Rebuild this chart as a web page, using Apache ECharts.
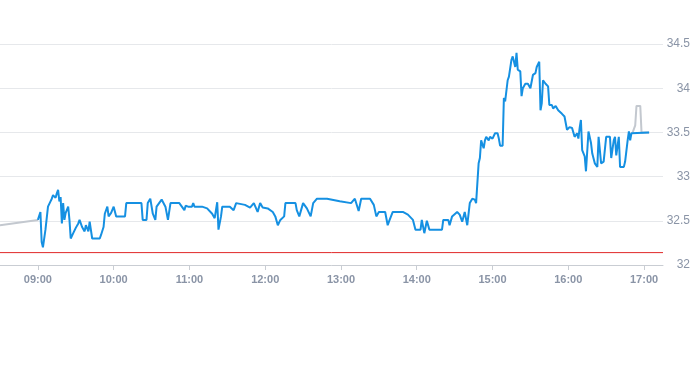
<!DOCTYPE html>
<html>
<head>
<meta charset="utf-8">
<script src="https://cdn.jsdelivr.net/npm/echarts@6/dist/echarts.min.js"></script>
<style>html,body{margin:0;padding:0;background:#fff;}#c{width:693px;height:365px;}</style>
</head>
<body>
<div id="c"></div>
<script>
const blueTimes = ["09:00","09:02","09:03","09:04","09:06","09:07","09:08","09:10","09:11","09:12","09:13","09:14","09:15","09:16","09:17","09:18","09:19","09:20","09:21","09:22","09:24","09:25","09:26","09:28","09:30","09:32","09:33","09:35","09:36","09:37","09:38","09:39","09:40","09:41","09:42","09:43","09:49","09:50","09:52","09:53","09:55","09:56","09:58","10:00","10:02","10:09","10:10","10:22","10:23","10:26","10:27","10:29","10:31","10:33","10:34","10:36","10:38","10:39","10:41","10:43","10:45","10:52","10:54","10:56","10:57","10:59","11:02","11:03","11:04","11:10","11:14","11:18","11:20","11:22","11:23","11:25","11:26","11:32","11:35","11:37","11:44","11:48","11:51","11:54","11:56","11:58","12:02","12:06","12:08","12:10","12:12","12:15","12:16","12:24","12:25","12:27","12:30","12:33","12:36","12:38","12:41","12:49","12:59","13:08","13:11","13:12","13:14","13:16","13:23","13:26","13:28","13:30","13:35","13:37","13:38","13:41","13:49","13:53","13:57","13:59","14:03","14:04","14:06","14:08","14:09","14:10","14:20","14:21","14:25","14:26","14:28","14:29","14:32","14:34","14:36","14:38","14:40","14:41","14:42","14:44","14:46","14:47","14:49","14:50","14:51","14:53","14:54","14:55","14:57","14:58","15:00","15:02","15:04","15:05","15:06","15:08","15:09","15:10","15:12","15:13","15:14","15:15","15:16","15:18","15:19","15:20","15:22","15:23","15:24","15:26","15:28","15:30","15:32","15:34","15:35","15:37","15:38","15:39","15:40","15:42","15:44","15:45","15:47","15:48","15:50","15:52","15:53","15:55","15:57","15:58","15:59","16:00","16:01","16:03","16:05","16:07","16:08","16:09","16:10","16:11","16:13","16:14","16:15","16:16","16:18","16:19","16:21","16:23","16:24","16:26","16:28","16:30","16:33","16:34","16:36","16:37","16:38","16:40","16:41","16:44","16:45","16:47","16:48","16:49","16:50","16:51","17:04"];
const blueValues = [32.51,32.60,32.26,32.20,32.40,32.40,32.66,32.72,32.75,32.79,32.80,32.76,32.81,32.85,32.72,32.77,32.47,32.70,32.51,32.59,32.66,32.51,32.30,32.36,32.42,32.47,32.51,32.43,32.42,32.38,32.45,32.47,32.38,32.49,32.51,32.30,32.30,32.34,32.43,32.58,32.66,32.55,32.59,32.66,32.55,32.55,32.70,32.70,32.51,32.51,32.70,32.75,32.58,32.51,32.66,32.70,32.74,32.75,32.66,32.51,32.70,32.70,32.66,32.62,32.67,32.66,32.66,32.70,32.66,32.66,32.64,32.58,32.53,32.71,32.40,32.55,32.66,32.66,32.62,32.70,32.68,32.65,32.70,32.60,32.70,32.65,32.64,32.60,32.55,32.45,32.51,32.55,32.70,32.70,32.62,32.55,32.70,32.64,32.55,32.70,32.75,32.75,32.72,32.70,32.75,32.75,32.61,32.75,32.75,32.68,32.55,32.60,32.60,32.45,32.49,32.60,32.60,32.57,32.51,32.40,32.40,32.51,32.36,32.50,32.50,32.40,32.40,32.51,32.51,32.45,32.55,32.53,32.60,32.57,32.49,32.60,32.45,32.45,32.70,32.75,32.74,32.70,33.15,33.21,33.41,33.32,33.41,33.45,33.41,33.45,33.43,33.49,33.49,33.43,33.35,33.35,33.89,33.85,34.09,34.13,34.15,34.32,34.36,34.24,34.40,34.21,34.19,33.91,34.00,34.05,34.05,34.00,34.15,34.17,34.24,34.30,33.75,33.83,34.09,34.05,34.02,33.81,33.81,33.77,33.80,33.75,33.77,33.71,33.68,33.70,33.53,33.51,33.56,33.55,33.45,33.49,33.43,33.55,33.64,33.30,33.23,33.06,33.06,33.51,33.38,33.26,33.15,33.11,33.45,33.15,33.17,33.45,33.45,33.21,33.41,33.45,33.24,33.45,33.11,33.11,33.17,33.41,33.51,33.41,33.49,33.50,33.50];
const greyTimes = ["08:30","09:00",null,"16:51","16:53","16:54","16:57","16:58","17:04"];
const greyValues = [32.45,32.51,null,33.50,33.58,33.80,33.80,33.50,33.50];
const refLineValue = 32.14;
const xStart = "08:30", xEnd = "17:15";
const yMin = 32, yMax = 34.5, yStep = 0.5;

function ts(s){ const p = s.split(':'); return new Date(2024,0,2,+p[0],+p[1]).getTime(); }
function pairs(t, v){ return t.map((x,i)=> x===null ? '-' : [ts(x), v[i]]); }

const chart = echarts.init(document.getElementById('c'), null, {renderer:'canvas'});
const lbl = {color:'#8a94a6', fontFamily:'Liberation Sans, Arial, sans-serif'};
chart.setOption({
  animation:false,
  grid:{left:0, right:30, top:44, bottom:100, containLabel:false},
  xAxis:{
    type:'time', min:ts(xStart), max:ts(xEnd),
    minInterval:3600000, maxInterval:3600000,
    axisLine:{show:true, onZero:false, lineStyle:{color:'#c9cdd3', width:1}},
    axisTick:{show:true, length:5, lineStyle:{color:'#c9cdd3'}},
    splitLine:{show:false},
    axisLabel:Object.assign({margin:9, fontSize:11, fontWeight:'bold', formatter:function(v){const d=new Date(v);return String(d.getHours()).padStart(2,'0')+':'+String(d.getMinutes()).padStart(2,'0');}}, lbl)
  },
  yAxis:{
    type:'value', position:'right', min:yMin, max:yMax, interval:yStep,
    axisLine:{show:false}, axisTick:{show:false},
    splitLine:{lineStyle:{color:'#e6e8eb'}},
    axisLabel:Object.assign({align:'right', margin:27, fontSize:12}, lbl)
  },
  series:[
    {type:'line', data:[[ts(xStart), refLineValue],[ts(xEnd), refLineValue]], showSymbol:false, silent:true,
     itemStyle:{color:'#e02828'}, lineStyle:{color:'#e02828', width:1}, z:1},
    {type:'line', data:pairs(greyTimes, greyValues), showSymbol:false, connectNulls:false,
     itemStyle:{color:'#c3c8cf'}, lineStyle:{color:'#c3c8cf', width:2}, z:2},
    {type:'line', data:pairs(blueTimes, blueValues), showSymbol:false,
     itemStyle:{color:'#1590e2'}, lineStyle:{color:'#1590e2', width:2}, z:3}
  ]
});
</script>
</body>
</html>
